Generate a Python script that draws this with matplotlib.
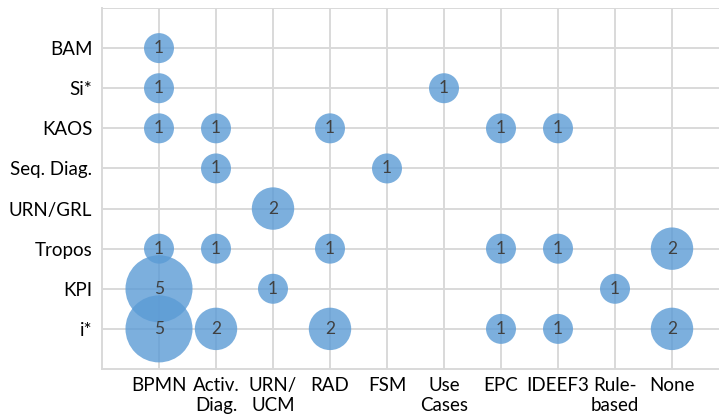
import matplotlib
matplotlib.use("Agg")
import matplotlib.pyplot as plt

# categories
x_labels = ["BPMN", "Activ.\nDiag.", "URN/\nUCM", "RAD", "FSM", "Use\nCases",
            "EPC", "IDEEF3", "Rule-\nbased", "None"]
y_labels = ["i*", "KPI", "Tropos", "URN/GRL", "Seq. Diag.", "KAOS", "Si*", "BAM"]

# one entry per bubble: (x category, y category, count)
bubble_x = ["BPMN",
            "BPMN", "Use\nCases",
            "BPMN", "Activ.\nDiag.", "RAD", "EPC", "IDEEF3",
            "Activ.\nDiag.", "FSM",
            "URN/\nUCM",
            "BPMN", "Activ.\nDiag.", "RAD", "EPC", "IDEEF3", "None",
            "BPMN", "URN/\nUCM", "Rule-\nbased",
            "BPMN", "Activ.\nDiag.", "RAD", "EPC", "IDEEF3", "None"]
bubble_y = ["BAM",
            "Si*", "Si*",
            "KAOS", "KAOS", "KAOS", "KAOS", "KAOS",
            "Seq. Diag.", "Seq. Diag.",
            "URN/GRL",
            "Tropos", "Tropos", "Tropos", "Tropos", "Tropos", "Tropos",
            "KPI", "KPI", "KPI",
            "i*", "i*", "i*", "i*", "i*", "i*"]
counts = [1,
          1, 1,
          1, 1, 1, 1, 1,
          1, 1,
          2,
          1, 1, 1, 1, 1, 2,
          5, 1, 1,
          5, 2, 2, 1, 1, 2]

plt.rcParams['font.family'] = ['Lato', 'DejaVu Sans']

fig = plt.figure(figsize=(7.19, 4.19), dpi=100)
ax = fig.add_axes([102 / 719, 50 / 419, 617 / 719, 361 / 419])

xs = [x_labels.index(v) + 1 for v in bubble_x]
ys = [y_labels.index(v) + 1 for v in bubble_y]
ax.scatter(xs, ys, s=[466 * c for c in counts], color="#5B9BD5", alpha=0.8,
           linewidths=0, zorder=3)
for x, y, c in zip(xs, ys, counts):
    ax.text(x, y, str(c), ha="center", va="center", fontsize=12.5,
            color="#404040", zorder=4)

ax.set_xlim(0, 617 / 57)
ax.set_ylim(0, 9)
ax.set_xticks(range(1, len(x_labels) + 1), x_labels)
ax.set_yticks(range(1, len(y_labels) + 2), y_labels + [""])
ax.tick_params(length=0, labelsize=13.5, labelcolor="#000000")
ax.tick_params(axis="x", pad=6)
ax.tick_params(axis="y", pad=7)
for lbl in ax.get_xticklabels():
    lbl.set_linespacing(1.2)

ax.grid(True, color="#D9D9D9", linewidth=1.4, zorder=0)
ax.set_axisbelow(True)
for side in ["top", "right"]:
    ax.spines[side].set_visible(False)
for side in ["left", "bottom"]:
    ax.spines[side].set_color("#D9D9D9")
    ax.spines[side].set_linewidth(1.4)

fig.savefig("out.png", dpi=100)
